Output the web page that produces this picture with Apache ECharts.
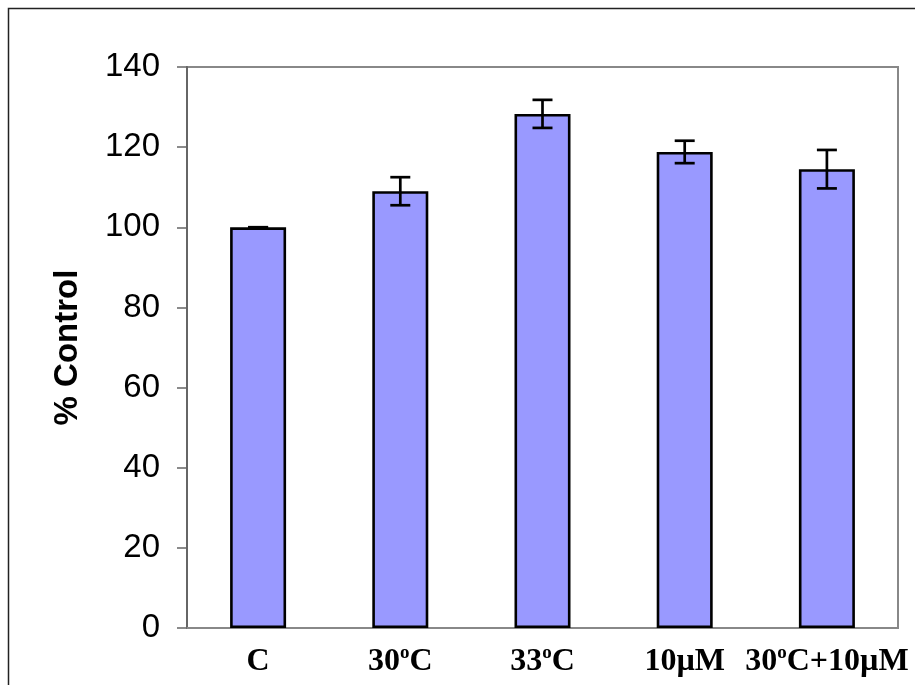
<!DOCTYPE html>
<html>
<head>
<meta charset="utf-8">
<script src="https://cdn.jsdelivr.net/npm/echarts@6/dist/echarts.min.js"></script>
<style>
html,body{margin:0;padding:0;background:#fff;}
#chart{width:915px;height:685px;}
</style>
</head>
<body>
<div id="chart"></div>
<script>
const categories = ['C', '30ºC', '33ºC', '10µM', '30ºC+10µM'];
const values = [100, 109, 128.3, 118.8, 114.5];
const errors = [0, 3.5, 3.5, 2.8, 4.8];
const yTicks = [0, 20, 40, 60, 80, 100, 120, 140];

const errData = values.map((v, i) => [i, v - errors[i], v + errors[i]]);

const chart = echarts.init(document.getElementById('chart'));
chart.setOption({
  animation: false,
  backgroundColor: '#ffffff',
  graphic: [{
    type: 'rect',
    shape: { x: 8.5, y: 8.5, width: 930, height: 700 },
    style: { fill: 'none', stroke: '#222', lineWidth: 1.5 },
    silent: true
  }],
  grid: { left: 187, right: 17, top: 67, bottom: 57, show: true, borderColor: '#888', borderWidth: 2, backgroundColor: 'transparent' },
  xAxis: {
    type: 'category',
    data: categories,
    axisLine: { show: true, lineStyle: { color: '#888', width: 2 } },
    axisTick: { show: false },
    axisLabel: {
      interval: 0,
      hideOverlap: false,
      margin: 16,
      fontFamily: 'Liberation Serif',
      fontWeight: 'bold',
      fontSize: 32,
      color: '#000',
      formatter: function (v) {
        return v.split('º').map(s => '{m|' + s + '}').join('{s|o}');
      },
      rich: {
        m: { fontFamily: 'Liberation Serif', fontWeight: 'bold', fontSize: 32, color: '#000', verticalAlign: 'bottom', lineHeight: 34 },
        s: { fontFamily: 'Liberation Serif', fontWeight: 'bold', fontSize: 19, color: '#000', verticalAlign: 'top', lineHeight: 34 }
      }
    }
  },
  yAxis: {
    type: 'value',
    min: 0, max: 140, interval: 20,
    name: '% Control',
    nameLocation: 'middle',
    nameGap: 103,
    nameRotate: 90,
    nameTextStyle: { fontFamily: 'Liberation Sans', fontWeight: 'bold', fontSize: 33, color: '#000' },
    axisLine: { show: true, lineStyle: { color: '#666', width: 2 } },
    axisTick: { show: true, length: 10, lineStyle: { color: '#666', width: 1.5 } },
    splitLine: { show: false },
    axisLabel: {
      margin: 27,
      fontFamily: 'Liberation Sans',
      fontSize: 33,
      color: '#000',
      formatter: function (v) { return yTicks.indexOf(v) >= 0 ? String(v) : ''; }
    }
  },
  series: [{
    type: 'bar',
    data: values,
    barWidth: 56,
    itemStyle: { color: '#9999FF', borderColor: '#000', borderWidth: 2.6 }
  }, {
    type: 'custom',
    data: errData,
    z: 10,
    renderItem: function (params, api) {
      const x = api.value(0);
      const lo = api.coord([x, api.value(1)]);
      const hi = api.coord([x, api.value(2)]);
      const hw = 10;
      const st = { stroke: '#000', lineWidth: 2.7 };
      return {
        type: 'group',
        children: [
          { type: 'line', shape: { x1: lo[0], y1: lo[1], x2: hi[0], y2: hi[1] }, style: st },
          { type: 'line', shape: { x1: hi[0] - hw, y1: hi[1], x2: hi[0] + hw, y2: hi[1] }, style: st },
          { type: 'line', shape: { x1: lo[0] - hw, y1: lo[1], x2: lo[0] + hw, y2: lo[1] }, style: st }
        ]
      };
    }
  }]
});
</script>
</body>
</html>
